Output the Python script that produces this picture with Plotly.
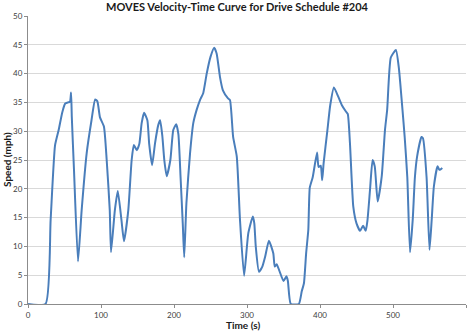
import plotly.graph_objects as go

time_s = [0, 24, 31, 37, 42, 47, 51, 55, 57.5, 59, 60, 63, 68.5, 73.5, 80.4, 87, 92, 95, 98.6, 104, 107.8, 112, 113.7,
          119, 123, 128, 131.5, 137.4, 142, 145, 149, 152.5, 155.7, 159, 163.5, 166, 170, 174, 178.5, 181, 184, 186.7,
          190, 195, 199, 203, 206, 209, 212, 214, 217, 222, 226.4, 231, 235.6, 240, 244.8, 250, 255, 258.4, 263, 267,
          274, 276.7, 281, 286, 290.4, 296, 301.8, 308, 310, 312, 316.4, 321, 325, 330, 336, 338, 340.6, 344, 350,
          354, 356, 360, 371, 375, 378, 381, 384, 386, 390, 396, 398, 401, 403, 405, 410, 414, 419, 425, 430, 435,
          438, 441, 445.6, 450, 455, 459, 462.6, 465, 468.5, 472, 475, 479, 484.5, 489, 492, 497, 504, 508, 513,
          516, 519.6, 523.3, 527, 530, 533, 539, 541, 546, 550, 553, 556, 561, 563, 564.4, 567.5]
speed_mph = [0, 0, 14.6, 27.5, 30.2, 33.3, 34.8, 35, 35.1, 36.7, 32.5, 23.3, 7.4, 16.3, 26.2, 31.9, 35.5, 35.2, 32.4, 30.8, 25, 16.3, 9,
             16.3, 19.6, 14.6, 10.9, 16.3, 25, 27.6, 26.7, 27.8, 31.4, 33.2, 31.9, 27.8, 24.1, 27.9, 31.1, 31.9, 29.2, 25,
             22.2, 25, 30.2, 31.2, 29.5, 22, 14, 8.1, 17.5, 26.2, 31.4, 33.7, 35.4, 36.6, 40, 42.9, 44.5, 43.5, 39.4, 37.1,
             35.7, 35.4, 29, 25.6, 14.6, 4.9, 12.3, 15.2, 14, 10, 5.6, 6.5, 8.3, 11, 8.8, 6.5, 6.9, 5.9, 4.0,
             4.8, 4.0, 0, 0, 2.2, 3.6, 8.8, 12.9, 20.2, 22, 26.3, 23.8, 24, 21.5, 24.5, 30, 34.5, 37.6, 36, 34.5, 33.5,
             33, 28, 16.9, 14, 12.7, 13.6, 12.7, 14.5, 19.8, 25, 23.9, 17.8, 22.1, 30.2, 33.7, 42.8, 44.1, 41, 33.7,
             29, 22, 9, 14.6, 22, 25.6, 29, 28.8, 22, 9.4, 14.6, 20.4, 23.9, 23.4, 23.3, 23.6]

title_text = "MOVES Velocity-Time Curve for Drive Schedule #204"
x_title = "Time (s)"
y_title = "Speed (mph)"
x_ticks = [0, 100, 200, 300, 400, 500, 600]
y_ticks = [0, 5, 10, 15, 20, 25, 30, 35, 40, 45, 50]

fig = go.Figure()
fig.add_trace(go.Scatter(
    x=time_s, y=speed_mph, mode="lines",
    line=dict(color="#4a7ebb", width=2, shape="spline", smoothing=0.5),
    showlegend=False, hoverinfo="skip",
))

font_family = "Lato, 'Open Sans', sans-serif"
fig.update_layout(
    width=470, height=333,
    margin=dict(l=28, r=4, t=16, b=29),
    paper_bgcolor="white", plot_bgcolor="white",
    font=dict(family=font_family, color="#404040", size=8),
    title=dict(text="<b>" + title_text + "</b>", x=237 / 470, xanchor="center",
               y=1 - 7 / 333, yanchor="middle", yref="container",
               font=dict(size=11, color="#1a1a1a", family=font_family)),
    xaxis=dict(range=[0, 600], tickvals=x_ticks, showgrid=False, zeroline=False,
               showline=True, linecolor="#8c8c8c", linewidth=1,
               ticks="outside", ticklen=3, tickcolor="#8c8c8c",
               tickfont=dict(size=8, color="#404040"), fixedrange=True),
    yaxis=dict(range=[0, 50], tickvals=y_ticks, showgrid=True, gridcolor="#d9d9d9", gridwidth=1,
               zeroline=False, showline=True, linecolor="#8c8c8c", linewidth=1,
               ticks="outside", ticklen=3, tickcolor="#8c8c8c",
               tickfont=dict(size=8, color="#404040"), fixedrange=True),
    annotations=[
        dict(text="<b>" + x_title + "</b>", xref="paper", yref="paper", x=(243 - 28) / 438,
             y=-21 / 288, xanchor="center", yanchor="middle", showarrow=False,
             font=dict(size=10, color="#1a1a1a", family=font_family)),
        dict(text="<b>" + y_title + "</b>", xref="paper", yref="paper", x=-21 / 438, y=0.5,
             xanchor="center", yanchor="middle", textangle=-90, showarrow=False,
             font=dict(size=10, color="#1a1a1a", family=font_family)),
    ],
)

fig.write_html("out.html")
